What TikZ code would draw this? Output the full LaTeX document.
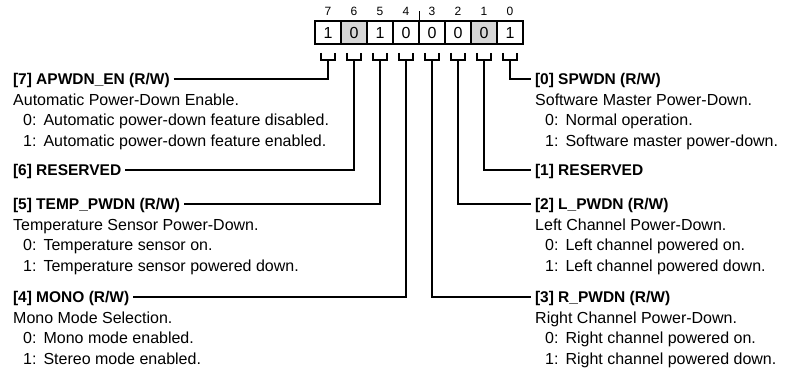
\documentclass[tikz,border=0pt]{standalone}
\usepackage{fontspec}
\setmainfont{Liberation Sans}
\usetikzlibrary{positioning}
\newcommand{\fieldval}[2]{\hspace*{10pt}#1:\hspace*{7pt}#2}
\tikzset{
  wire/.style={line width=1.8pt},
}

\begin{document}
\begin{tikzpicture}[
  x=1pt, y=-1pt,
  bitbox/.style={draw, line width=1.8pt, minimum width=26pt, minimum height=23pt, inner sep=0pt, font=\fontsize{16}{16}\selectfont},
  rsvd/.style={bitbox, fill=black!16},
  bitnum/.style={inner sep=0pt, font=\fontsize{12}{12}\selectfont},
  field/.style={inner sep=0pt, outer xsep=4pt, text height=11pt, text depth=0pt, font=\bfseries\fontsize{15.5}{20.5}\selectfont},
  desc/.style={inner sep=0pt, align=left, font=\fontsize{16}{20.5}\selectfont}
]
\useasboundingbox (0,0) rectangle (791,369);

\foreach \b/\v/\s [count=\i from 0] in {7/1/bitbox,6/0/rsvd,5/1/bitbox,4/0/bitbox,3/0/bitbox,2/0/bitbox,1/0/rsvd,0/1/bitbox} {
  \node[\s] (b\b) at (328+26*\i,32.5) {\v};
  \node[bitnum] (n\b) at (328+26*\i,11) {\b};
  \coordinate (k\b) at ([yshift=-15pt]b\b.south);
  \draw[wire] ([xshift=-7pt,yshift=-8pt]b\b.south) -- ([xshift=-7pt]k\b) -- ([xshift=7pt]k\b) -- ([xshift=7pt,yshift=-8pt]b\b.south);
}
\draw[line width=1pt] (b4.north east) -- ++(0,-9);

% left side
\node[field, anchor=base west] (f7) at (9,84.5) {[7] APWDN\_EN (R/W)};
\node[desc, below right=6.15pt and 4pt of f7.base west] (d7) {\strut Automatic Power-Down Enable.\\
  \fieldval{0}{Automatic power-down feature disabled.}\\
  \fieldval{1}{Automatic power-down feature enabled.}};
\node[field, anchor=base west] (f6) at (9,175.5) {[6] RESERVED};
\node[field, anchor=base west] (f5) at (9,209.5) {[5] TEMP\_PWDN (R/W)};
\node[desc, below right=6.15pt and 4pt of f5.base west] (d5) {\strut Temperature Sensor Power-Down.\\
  \fieldval{0}{Temperature sensor on.}\\
  \fieldval{1}{Temperature sensor powered down.}};
\node[field, anchor=base west] (f4) at (9,302.5) {[4] MONO (R/W)};
\node[desc, below right=6.15pt and 4pt of f4.base west] (d4) {\strut Mono Mode Selection.\\
  \fieldval{0}{Mono mode enabled.}\\
  \fieldval{1}{Stereo mode enabled.}};

% right side
\node[field, anchor=base west] (f0) at (531,84.5) {[0] SPWDN (R/W)};
\node[desc, below right=6.15pt and 4pt of f0.base west] (d0) {\strut Software Master Power-Down.\\
  \fieldval{0}{Normal operation.}\\
  \fieldval{1}{Software master power-down.}};
\node[field, anchor=base west] (f1) at (531,175.5) {[1] RESERVED};
\node[field, anchor=base west] (f2) at (531,209.5) {[2] L\_PWDN (R/W)};
\node[desc, below right=6.15pt and 4pt of f2.base west] (d2) {\strut Left Channel Power-Down.\\
  \fieldval{0}{Left channel powered on.}\\
  \fieldval{1}{Left channel powered down.}};
\node[field, anchor=base west] (f3) at (531,302.5) {[3] R\_PWDN (R/W)};
\node[desc, below right=6.15pt and 4pt of f3.base west] (d3) {\strut Right Channel Power-Down.\\
  \fieldval{0}{Right channel powered on.}\\
  \fieldval{1}{Right channel powered down.}};

\foreach \b in {7,6,5,4}
  \draw[wire] (f\b.east) -| (k\b);
\foreach \b in {0,1,2,3}
  \draw[wire] (k\b) |- (f\b.west);

\end{tikzpicture}
\end{document}
